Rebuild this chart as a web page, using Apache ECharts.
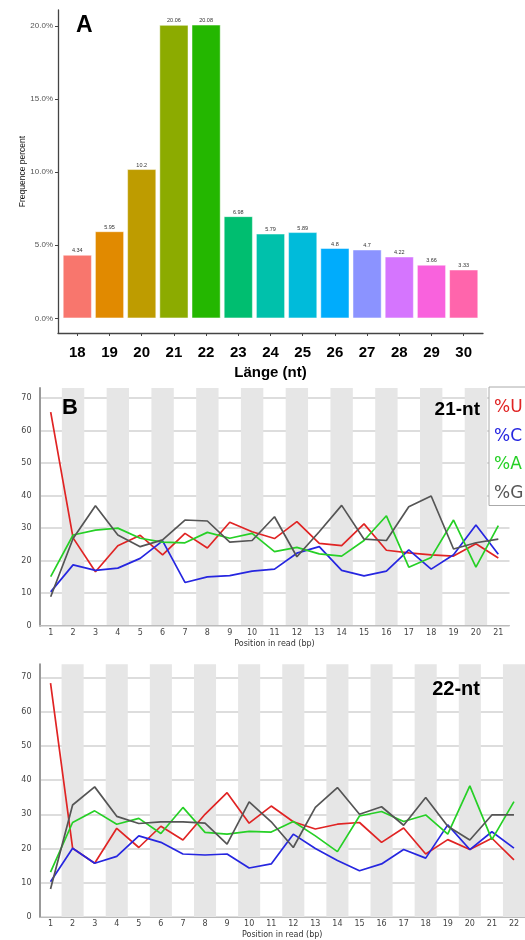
<!DOCTYPE html>
<html>
<head>
<meta charset="utf-8">
<script src="https://cdn.jsdelivr.net/npm/echarts@6/dist/echarts.min.js"></script>
<style>
html,body{margin:0;padding:0;background:#fff;}
#c{width:525px;height:940px;}
</style>
</head>
<body>
<div id="c"></div>
<script>
// ---- Data ----
const lenCats = [18, 19, 20, 21, 22, 23, 24, 25, 26, 27, 28, 29, 30];
const lenPct = [4.34, 5.95, 10.2, 20.06, 20.08, 6.98, 5.79, 5.89, 4.8, 4.7, 4.22, 3.66, 3.33];
const pctTicks = [0, 5, 10, 15, 20];

const pos21 = ['1','2','3','4','5','6','7','8','9','10','11','12','13','14','15','16','17','18','19','20','21'];
const u21 = [65.7, 27.0, 16.6, 24.6, 27.8, 21.8, 28.4, 23.9, 31.8, 28.9, 26.8, 32.0, 25.3, 24.6, 31.3, 23.2, 22.4, 21.8, 21.4, 25.2, 20.8];
const c21 = [10.4, 18.7, 17.0, 17.7, 20.7, 26.1, 13.3, 15.0, 15.4, 16.8, 17.4, 22.3, 24.3, 17.0, 15.3, 16.8, 23.3, 17.4, 21.8, 31.0, 22.0];
const a21 = [15.1, 27.9, 29.4, 30.0, 26.9, 25.7, 25.5, 28.7, 26.9, 28.4, 22.8, 24.1, 22.1, 21.4, 26.2, 33.8, 18.0, 21.0, 32.5, 18.0, 30.8];
const g21 = [8.9, 26.8, 36.9, 27.9, 24.3, 26.4, 32.5, 32.2, 25.7, 26.2, 33.5, 21.2, 28.9, 37.0, 26.6, 26.2, 36.6, 39.9, 23.6, 25.5, 26.6];

const pos22 = ['1','2','3','4','5','6','7','8','9','10','11','12','13','14','15','16','17','18','19','20','21','22'];
const u22 = [68.3, 20.1, 15.7, 25.9, 20.3, 26.5, 22.5, 30.0, 36.3, 27.4, 32.4, 27.8, 25.7, 27.1, 27.6, 21.8, 26.0, 18.4, 22.6, 19.7, 23.0, 16.7];
const c22 = [10.3, 20.1, 15.7, 17.7, 23.7, 21.8, 18.4, 18.1, 18.4, 14.3, 15.5, 24.2, 20.0, 16.5, 13.5, 15.5, 19.7, 17.2, 26.9, 19.7, 24.9, 20.1];
const a22 = [13.1, 27.6, 31.0, 27.1, 28.8, 24.4, 32.0, 24.7, 24.2, 25.0, 24.8, 27.9, 23.7, 19.1, 29.5, 30.8, 27.9, 29.8, 24.2, 38.3, 22.6, 33.7];
const g22 = [8.2, 32.7, 38.0, 29.4, 27.3, 27.8, 27.8, 27.4, 21.3, 33.6, 27.8, 20.3, 32.0, 37.8, 30.0, 32.2, 26.8, 34.9, 26.5, 22.5, 29.8, 29.8];
const posTicks = [0, 10, 20, 30, 40, 50, 60, 70];

const baseNames = ['%U', '%C', '%A', '%G'];

// ---- Styles ----
const barColors = ['#F8766D','#E18A00','#BE9C00','#8CAB00','#24B700','#00BE70','#00C1AB','#00BBDA','#00ACFC','#8B93FF','#D575FE','#F962DD','#FF65AC'];
const lineColors = ['#e02424', '#2626e0', '#26d026', '#555555'];
const SANS = 'Liberation Sans, Arial, sans-serif';
const DV = 'DejaVu Sans, sans-serif';

const chart = echarts.init(document.getElementById('c'), null, {renderer: 'canvas'});

function posXAxis(idx, cats) {
  return {
    type: 'category', gridIndex: idx, data: cats, boundaryGap: true,
    axisLine: {show: true, lineStyle: {color: '#bbbbbb', width: 1}},
    axisTick: {show: false},
    axisLabel: {interval: 0, fontSize: 8, color: '#444', fontFamily: DV, margin: 3},
    splitArea: {show: true, interval: 0, areaStyle: {color: ['rgba(255,255,255,0)', '#e6e6e6']}},
    splitLine: {show: false},
    name: 'Position in read (bp)', nameLocation: 'middle', nameGap: 14,
    nameTextStyle: {fontSize: 8, color: '#333', fontFamily: DV}
  };
}
function posYAxis(idx, maxV) {
  return {
    type: 'value', gridIndex: idx, min: 0, max: maxV,
    axisLine: {show: true, lineStyle: {color: '#999999', width: 2}},
    axisTick: {show: false, customValues: posTicks},
    axisLabel: {customValues: posTicks, fontSize: 8, color: '#444', fontFamily: DV, margin: 8},
    splitLine: {show: true, lineStyle: {color: '#d2d2d2', width: 1.5}}
  };
}
function lineSeries(idx, arrs) {
  return arrs.map((arr, k) => ({
    type: 'line', name: baseNames[k], xAxisIndex: idx, yAxisIndex: idx,
    data: arr, showSymbol: false, symbol: 'none',
    lineStyle: {color: lineColors[k], width: 1.7}, itemStyle: {color: lineColors[k]},
    silent: true, animation: false, z: 3
  }));
}

const option = {
  animation: false,
  backgroundColor: '#ffffff',
  grid: [
    {left: 58, top: 10, width: 425, height: 323},
    {left: 39.5, top: 388, width: 470, height: 237.7},
    {left: 39.5, top: 664.3, width: 492.8, height: 254}
  ],
  xAxis: [
    {
      type: 'value', gridIndex: 0, min: 17.4, max: 30.6,
      axisLine: {show: true, onZero: false, lineStyle: {color: '#444', width: 1.3}},
      axisTick: {show: true, customValues: lenCats, length: 3, lineStyle: {color: '#444'}},
      axisLabel: {customValues: lenCats, fontSize: 15, fontWeight: 'bold', color: '#000', fontFamily: SANS, margin: 12},
      splitLine: {show: false},
      name: 'Länge (nt)', nameLocation: 'middle', nameGap: 32,
      nameTextStyle: {fontSize: 15, fontWeight: 'bold', color: '#000', fontFamily: SANS}
    },
    posXAxis(1, pos21),
    posXAxis(2, pos22)
  ],
  yAxis: [
    {
      type: 'value', gridIndex: 0, min: -1.004, max: 21.084,
      axisLine: {show: true, onZero: false, lineStyle: {color: '#444', width: 1.3}},
      axisTick: {show: true, customValues: pctTicks, length: 3, lineStyle: {color: '#444'}},
      axisLabel: {customValues: pctTicks, fontSize: 8, color: '#555', fontFamily: SANS, margin: 5,
        formatter: v => v.toFixed(1) + '%'},
      splitLine: {show: false},
      name: 'Frequence percent', nameLocation: 'middle', nameGap: 31, nameMoveOverlap: false,
      nameTextStyle: {fontSize: 8.5, color: '#111', fontFamily: SANS}
    },
    posYAxis(1, 73.1),
    posYAxis(2, 73.8)
  ],
  legend: {
    orient: 'vertical', left: 489, top: 387,
    padding: [11, 40, 2, 0], itemGap: 8.5,
    icon: 'rect', itemWidth: 0, itemHeight: 0,
    backgroundColor: '#ffffff', borderColor: '#aaaaaa', borderWidth: 1,
    selectedMode: false,
    textStyle: {fontSize: 17, fontFamily: DV, lineHeight: 20},
    data: baseNames.map((n, k) => ({name: n, textStyle: {color: lineColors[k]}}))
  },
  graphic: [
    {type: 'text', z: 100, x: 76, y: 26, style: {text: 'A', font: 'bold 23px ' + SANS, fill: '#000', align: 'left', verticalAlign: 'middle'}},
    {type: 'text', z: 100, x: 62, y: 408, style: {text: 'B', font: 'bold 22px ' + SANS, fill: '#000', align: 'left', verticalAlign: 'middle'}},
    {type: 'text', z: 100, x: 480, y: 409.5, style: {text: '21-nt', font: 'bold 19px ' + SANS, fill: '#000', align: 'right', verticalAlign: 'middle'}},
    {type: 'text', z: 100, x: 480, y: 689.5, style: {text: '22-nt', font: 'bold 20px ' + SANS, fill: '#000', align: 'right', verticalAlign: 'middle'}}
  ],
  series: [
    {
      type: 'bar', xAxisIndex: 0, yAxisIndex: 0, barWidth: 29,
      data: lenCats.map((c, i) => ({value: [c, lenPct[i]], itemStyle: {color: barColors[i]}})),
      itemStyle: {borderColor: 'rgba(255,255,255,0.6)', borderWidth: 0.8},
      label: {show: true, position: 'top', distance: 1, fontSize: 5.5, color: '#333', fontFamily: SANS,
        formatter: p => String(p.value[1])},
      silent: true
    }
  ].concat(lineSeries(1, [u21, c21, a21, g21]), lineSeries(2, [u22, c22, a22, g22]))
};
chart.setOption(option);
</script>
</body>
</html>
